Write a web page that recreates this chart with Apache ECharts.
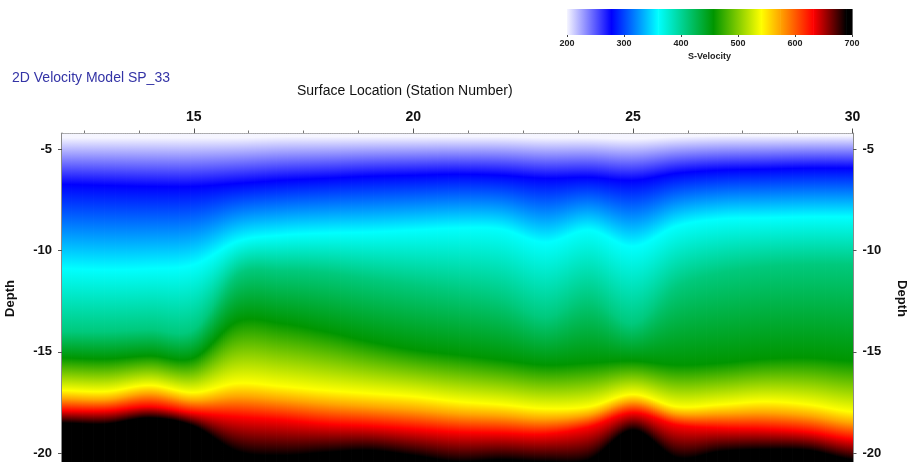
<!DOCTYPE html>
<html>
<head>
<meta charset="utf-8">
<title>2D Velocity Model SP_33</title>
<script src="https://cdn.jsdelivr.net/npm/echarts@6/dist/echarts.min.js"></script>
<style>
  html, body { margin: 0; padding: 0; background: #ffffff; }
  #chart { width: 914px; height: 462px; }
</style>
</head>
<body>
<div id="chart"></div>
<script>
// Station positions along the line
const stations = [12, 13, 14, 15, 16, 17, 18, 19, 20, 21, 22, 23, 24, 25, 26, 27, 28, 29, 30];

// S-velocity levels (m/s) traced as depth contours, with the colour of each level
const velocityLevels = [200, 278, 360, 410, 457, 541, 574, 632, 690];
const levelColors = ['#f5f5ff', '#0000ff', '#00ffff', '#00c97c', '#009600', '#ffff00', '#ffa500', '#ff0000', '#000000'];

// Depth of each velocity level at every station
const depth200 = [-4.45, -4.45, -4.45, -4.45, -4.45, -4.4, -4.4, -4.4, -4.4, -4.4, -4.4, -4.45, -4.45, -4.5, -4.4, -4.35, -4.35, -4.35, -4.35];
const depth278 = [-6.75, -6.8, -6.85, -6.85, -6.7, -6.55, -6.45, -6.35, -6.3, -6.25, -6.3, -6.45, -6.4, -6.55, -6.2, -6.05, -6.0, -5.95, -5.95];
const depth360 = [-10.9, -10.95, -10.9, -10.7, -9.55, -9.25, -9.15, -9.1, -9.0, -8.9, -8.95, -9.6, -9.0, -9.8, -8.8, -8.45, -8.4, -8.35, -8.35];
const depth410 = [-14.0, -14.0, -13.9, -13.9, -11.2, -11.0, -11.1, -11.4, -11.7, -12.0, -12.4, -13.3, -12.4, -13.6, -11.8, -11.1, -10.8, -10.7, -10.7];
const depth457 = [-15.3, -15.35, -15.2, -15.3, -13.5, -13.6, -14.0, -14.5, -14.9, -15.15, -15.4, -15.65, -15.55, -15.45, -15.65, -15.55, -15.35, -15.3, -15.45];
const depth541 = [-16.9, -16.95, -16.65, -17.0, -16.55, -16.7, -16.9, -17.05, -17.2, -17.45, -17.6, -17.8, -17.7, -17.1, -17.7, -17.6, -17.45, -17.6, -17.95];
const depth574 = [-17.3, -17.35, -17.05, -17.4, -17.2, -17.35, -17.55, -17.7, -17.85, -18.05, -18.15, -18.3, -18.1, -17.45, -18.05, -18.05, -18.0, -18.15, -18.5];
const depth632 = [-17.9, -17.9, -17.7, -18.0, -18.2, -18.35, -18.55, -18.65, -18.8, -18.95, -19.0, -19.05, -18.7, -18.0, -18.6, -18.75, -18.8, -18.95, -19.3];
const depth690 = [-18.5, -18.55, -18.25, -18.65, -19.9, -20.1, -19.95, -19.85, -20.1, -20.4, -20.3, -20.4, -20.3, -18.85, -20.2, -19.9, -19.8, -19.85, -20.3];

// Colour scale stops (velocity, colour) for the legend bar
const scaleValues = [200, 278, 360, 457, 541, 574, 632, 690, 700];
const scaleColors = ['#f5f5ff', '#0000ff', '#00ffff', '#009600', '#ffff00', '#ffa500', '#ff0000', '#000000', '#000000'];

// Tick labels
const stationTicks = [15, 20, 25, 30];
const stationMinorTicks = [12.5, 13.75, 16.25, 17.5, 18.75, 21.25, 22.5, 23.75, 26.25, 27.5, 28.75];
const depthTicks = [-5, -10, -15, -20];
const velocityTicks = [200, 300, 400, 500, 600, 700];

const depthContours = [depth200, depth278, depth360, depth410, depth457, depth541, depth574, depth632, depth690];

// Smooth contour between stations (Catmull-Rom)
function contourAt(arr, i, t) {
  const n = arr.length;
  const p0 = arr[Math.max(i - 1, 0)];
  const p1 = arr[i];
  const p2 = arr[Math.min(i + 1, n - 1)];
  const p3 = arr[Math.min(i + 2, n - 1)];
  const t2 = t * t, t3 = t2 * t;
  return 0.5 * (2 * p1 + (-p0 + p2) * t + (2 * p0 - 5 * p1 + 4 * p2 - p3) * t2 + (-p0 + 3 * p1 - 3 * p2 + p3) * t3);
}

const fieldData = stations.slice(0, -1).map((s, i) => [s, stations[i + 1]]);
const scaleData = scaleValues.slice(0, -1).map((v, i) => [v, scaleValues[i + 1], i]);

const FONT = '"Liberation Sans", Arial, sans-serif';
const AXIS_GRAY = '#8a8a8a';

function renderField(params, api) {
  const i = params.dataIndex;
  const xa = api.value(0), xb = api.value(1);
  const cs = params.coordSys;
  const top = cs.y, bottom = cs.y + cs.height;
  const steps = 24;
  const children = [];
  for (let j = 0; j < steps; j++) {
    const ta = j / steps, tb = (j + 1) / steps, tm = (j + 0.5) / steps;
    const xm = xa + (xb - xa) * tm;
    const pa = api.coord([xa + (xb - xa) * ta, -10])[0];
    const pb = api.coord([xa + (xb - xa) * tb, -10])[0];
    let prev = Infinity;
    const ys = [];
    for (let k = 0; k < depthContours.length; k++) {
      let d = contourAt(depthContours[k], i, tm);
      if (d > prev - 0.01) d = prev - 0.01;
      prev = d;
      ys.push(api.coord([xm, d])[1]);
    }
    const g0 = Math.min(top, ys[0]);
    const g1 = Math.max(bottom, ys[ys.length - 1]);
    const stops = ys.map((y, k) => ({ offset: Math.min(1, Math.max(0, (y - g0) / (g1 - g0))), color: levelColors[k] }));
    children.push({
      type: 'rect',
      shape: { x: pa, y: top, width: pb - pa + 0.8, height: bottom - top },
      style: { fill: { type: 'linear', x: 0, y: g0, x2: 0, y2: g1, global: true, colorStops: stops } }
    });
  }
  return { type: 'group', children };
}

function renderScale(params, api) {
  const v0 = api.value(0), v1 = api.value(1), k = api.value(2);
  const p0 = api.coord([v0, 1]);
  const p1 = api.coord([v1, 0]);
  return {
    type: 'rect',
    shape: { x: p0[0], y: p0[1], width: p1[0] - p0[0] + 0.6, height: p1[1] - p0[1] },
    style: {
      fill: {
        type: 'linear', x: p0[0], y: 0, x2: p1[0], y2: 0, global: true,
        colorStops: [{ offset: 0, color: scaleColors[k] }, { offset: 1, color: scaleColors[k + 1] }]
      }
    }
  };
}

const chart = echarts.init(document.getElementById('chart'), null, { renderer: 'canvas' });

chart.setOption({
  animation: false,
  backgroundColor: '#ffffff',
  textStyle: { fontFamily: FONT },
  title: [
    {
      text: '2D Velocity Model SP_33', left: 7, top: 66,
      textStyle: { color: '#3434a6', fontSize: 14, fontWeight: 'normal', fontFamily: FONT }
    },
    {
      text: 'Surface Location (Station Number)', left: 292, top: 79,
      textStyle: { color: '#111111', fontSize: 14, fontWeight: 'normal', fontFamily: FONT }
    }
  ],
  grid: [
    { left: 62, right: 61.5, top: 133.5, bottom: -1.5, containLabel: false, outerBoundsMode: 'none' },
    { left: 567, width: 285, top: 9, height: 26, containLabel: false, outerBoundsMode: 'none' }
  ],
  xAxis: [
    {
      gridIndex: 0, type: 'value', position: 'top', min: 12, max: 30,
      axisLine: { show: true, lineStyle: { color: AXIS_GRAY, width: 2 } },
      axisTick: { show: true, length: 5, customValues: stationTicks, lineStyle: { color: '#555', width: 1 } },
      axisLabel: { customValues: stationTicks, margin: 9, color: '#111', fontSize: 14, fontWeight: 'bold', fontFamily: FONT },
      splitLine: { show: false }
    },
    {
      gridIndex: 0, type: 'value', position: 'top', min: 12, max: 30,
      axisLine: { show: false },
      axisTick: { show: true, length: 3, customValues: stationMinorTicks, lineStyle: { color: '#777', width: 1 } },
      axisLabel: { show: false },
      splitLine: { show: false }
    },
    {
      gridIndex: 1, type: 'value', position: 'bottom', min: 200, max: 700,
      axisLine: { show: false },
      axisTick: { show: true, length: 2, customValues: velocityTicks, lineStyle: { color: '#444' } },
      axisLabel: { customValues: velocityTicks, margin: 4, color: '#222', fontSize: 9, fontWeight: 'bold', fontFamily: FONT },
      name: 'S-Velocity', nameLocation: 'middle', nameGap: 17,
      nameTextStyle: { color: '#222', fontSize: 9, fontWeight: 'bold', fontFamily: FONT },
      splitLine: { show: false }
    }
  ],
  yAxis: [
    {
      gridIndex: 0, type: 'value', position: 'left', min: -20.5, max: -4.24,
      axisLine: { show: true, lineStyle: { color: AXIS_GRAY, width: 2 } },
      axisTick: { show: true, length: 4, customValues: depthTicks, lineStyle: { color: '#555' } },
      axisLabel: { customValues: depthTicks, margin: 10, color: '#111', fontSize: 13, fontWeight: 'bold', fontFamily: FONT },
      name: 'Depth', nameLocation: 'middle', nameGap: 45,
      nameTextStyle: { color: '#111', fontSize: 13, fontWeight: 'bold', fontFamily: FONT },
      splitLine: { show: false }
    },
    {
      gridIndex: 0, type: 'value', position: 'right', min: -20.5, max: -4.24,
      axisLine: { show: true, lineStyle: { color: AXIS_GRAY, width: 2 } },
      axisTick: { show: true, length: 4, customValues: depthTicks, lineStyle: { color: '#555' } },
      axisLabel: { customValues: depthTicks, margin: 10, color: '#111', fontSize: 13, fontWeight: 'bold', fontFamily: FONT },
      name: 'Depth', nameLocation: 'middle', nameGap: 43, nameRotate: -90,
      nameTextStyle: { color: '#111', fontSize: 13, fontWeight: 'bold', fontFamily: FONT },
      splitLine: { show: false }
    },
    {
      gridIndex: 1, type: 'value', min: 0, max: 1, show: false
    }
  ],
  series: [
    {
      type: 'custom', name: 'S-Velocity', xAxisIndex: 0, yAxisIndex: 0,
      clip: true, silent: true, z: 1,
      data: fieldData,
      renderItem: renderField
    },
    {
      type: 'custom', name: 'Scale', xAxisIndex: 2, yAxisIndex: 2,
      silent: true,
      data: scaleData,
      renderItem: renderScale
    }
  ]
});
</script>
</body>
</html>
